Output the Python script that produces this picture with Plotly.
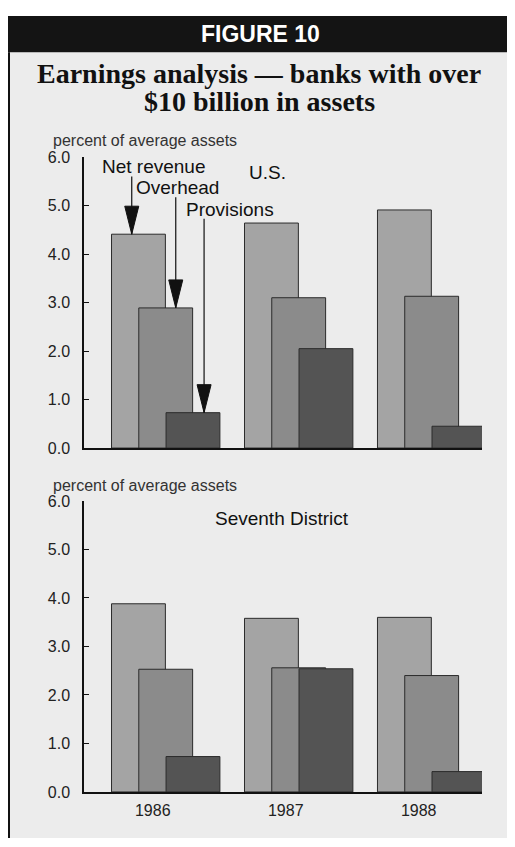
import plotly.graph_objects as go

years = ["1986", "1987", "1988"]
series_names = ["Net revenue", "Overhead", "Provisions"]
us_net_revenue = [4.41, 4.64, 4.91]
us_overhead = [2.89, 3.10, 3.13]
us_provisions = [0.73, 2.05, 0.45]
d7_net_revenue = [3.88, 3.58, 3.60]
d7_overhead = [2.53, 2.56, 2.40]
d7_provisions = [0.73, 2.54, 0.42]
y_ticks = [0, 1, 2, 3, 4, 5, 6]

# page has an 8px body margin; figure is offset to compensate
OFF = 8
W, H = 515 - OFF, 847 - OFF
def px(x):
    return (x - OFF) / W
def py(y):
    return 1 - (y - OFF) / H

colors = ["#a4a4a4", "#8b8b8b", "#545454"]
offsets = [-0.41, -0.205, 0.0]
bar_w = 0.405
xi = list(range(len(years)))

fig = go.Figure()
for axis_sfx, data in (("", [us_net_revenue, us_overhead, us_provisions]),
                       ("2", [d7_net_revenue, d7_overhead, d7_provisions])):
    for k, vals in enumerate(data):
        fig.add_trace(go.Bar(
            x=xi, y=vals, name=series_names[k], width=bar_w, offset=offsets[k],
            marker=dict(color=colors[k], line=dict(color="#2b2b2b", width=1)),
            xaxis="x" + axis_sfx, yaxis="y" + axis_sfx, showlegend=False))

xrange = [-0.617, 2.376]
axis_common = dict(showgrid=False, zeroline=False, showline=True, linecolor="#111", linewidth=1.5)
yax_common = dict(range=[0, 6], tickvals=y_ticks, tickformat=".1f", ticks="inside", ticklen=5,
                  tickcolor="#111", ticklabelstandoff=9, tickfont=dict(size=16, color="#222"))
fig.update_layout(
    width=W, height=H, margin=dict(l=0, r=0, t=0, b=0),
    paper_bgcolor="white", plot_bgcolor="rgba(0,0,0,0)", barmode="overlay",
    font=dict(family="Liberation Sans, Arial, sans-serif", color="#111"),
    xaxis=dict(domain=[px(84), px(482)], range=xrange, anchor="y", showticklabels=False,
               ticks="", **axis_common),
    yaxis=dict(domain=[py(449), py(152)], anchor="x", **yax_common, **axis_common),
    xaxis2=dict(domain=[px(84), px(482)], range=xrange, anchor="y2",
                tickvals=[i - 0.1 for i in xi], ticktext=years, ticks="",
                ticklabelstandoff=3, tickfont=dict(size=16, color="#222"), **axis_common),
    yaxis2=dict(domain=[py(800), py(503)], anchor="x2", **yax_common, **axis_common),
)

shapes = [
    dict(type="rect", xref="paper", yref="paper", x0=px(8), x1=px(511), y0=0, y1=py(45),
         fillcolor="#ececec", line=dict(width=0), layer="below"),
    dict(type="rect", xref="paper", yref="paper", x0=px(8), x1=1, y0=py(45), y1=py(8),
         fillcolor="#141414", line=dict(width=0), layer="below"),
    dict(type="line", xref="paper", yref="paper", x0=px(9), x1=px(9), y0=0, y1=py(45),
         line=dict(color="#111", width=2)),
    dict(type="line", xref="paper", yref="paper", x0=px(511), x1=px(511), y0=0, y1=py(45),
         line=dict(color="#111", width=2)),
]

# annotation arrows for 1986 U.S. bars
arrow_x = [-0.258, 0.073, 0.286]
arrow_top = [5.6, 5.17, 4.73]
us_1986 = [us_net_revenue[0], us_overhead[0], us_provisions[0]]
for k in range(3):
    shapes.append(dict(type="line", xref="x", yref="y", x0=arrow_x[k], x1=arrow_x[k],
                       y0=us_1986[k], y1=arrow_top[k], line=dict(color="#111", width=1.2)))
    shapes.append(dict(type="path", xref="x", yref="y", xsizemode="pixel", ysizemode="pixel",
                       xanchor=arrow_x[k], yanchor=us_1986[k],
                       path="M-7,28 L7,28 L0,0 Z", fillcolor="#111", line=dict(color="#111", width=1)))
fig.update_layout(shapes=shapes)

ann = [
    dict(text="<b>FIGURE 10</b>", x=px(260), y=py(26), font=dict(size=23, color="white",
         family="Liberation Sans, Arial, sans-serif")),
    dict(text="<b>Earnings analysis — banks with over</b>", x=px(259), y=py(67),
         font=dict(size=28, color="#111", family="Liberation Serif, Times New Roman, serif")),
    dict(text="<b>$10 billion in assets</b>", x=px(259), y=py(95),
         font=dict(size=28, color="#111", family="Liberation Serif, Times New Roman, serif")),
    dict(text="percent of average assets", x=px(51), y=py(135), xanchor="left",
         font=dict(size=16, color="#333")),
    dict(text="percent of average assets", x=px(51), y=py(487), xanchor="left",
         font=dict(size=16, color="#333")),
    dict(text="Net revenue", x=px(154), y=py(162), font=dict(size=19)),
    dict(text="Overhead", x=px(177.5), y=py(183), font=dict(size=19)),
    dict(text="Provisions", x=px(230), y=py(205), font=dict(size=19)),
    dict(text="U.S.", x=px(267), y=py(168), font=dict(size=19)),
    dict(text="Seventh District", x=px(282), y=py(521), font=dict(size=19)),
]
for a in ann:
    a.setdefault("xanchor", "center")
    fig.add_annotation(xref="paper", yref="paper", showarrow=False, yanchor="middle", **a)

fig.write_html("out.html")
